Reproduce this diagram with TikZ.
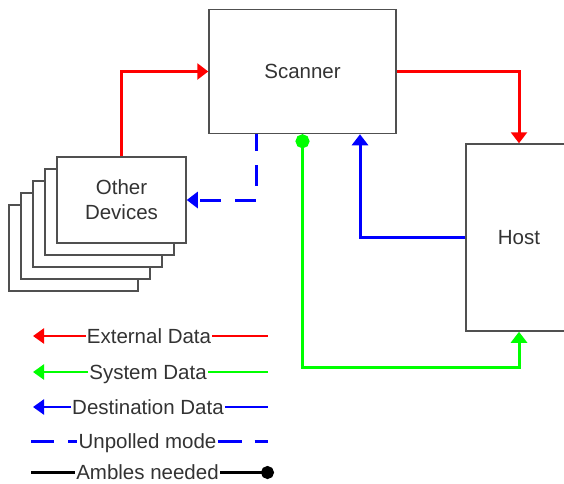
\documentclass[tikz,border=0pt]{standalone}
\usepackage{fontspec}
\setmainfont{Liberation Sans}
\usetikzlibrary{arrows.meta}
\definecolor{boxgray}{HTML}{505050}
\definecolor{txtgray}{HTML}{333333}
\definecolor{pgreen}{HTML}{00FF00}
\definecolor{pblue}{HTML}{0000FF}
\definecolor{pred}{HTML}{FF0000}
\begin{document}
\begin{tikzpicture}[x=1pt,y=-1pt,
  font=\fontsize{20.5}{25}\selectfont,
  box/.style={draw=boxgray, line width=1.5pt, fill=white, text=txtgray, inner sep=0pt, align=center},
  devbox/.style={box, minimum width=129pt, minimum height=86pt},
  conn/.style={line width=3pt},
  tri/.tip={Triangle[length=11pt,width=16pt]},
  legtxt/.style={text=txtgray, inner xsep=1pt, inner ysep=0pt, text height=14.7pt, text depth=0pt},
  legline/.style={line width=2.5pt},
  legtri/.tip={Triangle[length=11pt,width=15pt]}
]
\useasboundingbox (0,0) rectangle (564,483);
\clip (0,0) rectangle (564,483);

% nodes
\node[box, minimum width=187pt, minimum height=124pt] (scanner) at (302.5,71.5) {Scanner};
\node[box, minimum width=106pt, minimum height=187pt] (host) at (519,237.5) {Host};
\foreach \k in {4,3,2,1}
  \node[devbox] (back\k) at (121.5-12*\k,200+12*\k) {};
\node[devbox] (devices) at (121.5,200) {Other\\Devices};

% connectors
\draw[conn, pred, -tri] (devices.north) |- (scanner.west);
\draw[conn, pred, -tri] (scanner.east) -| (host.north);
\draw[conn, pblue, dash pattern=on 21pt off 14pt, dash phase=4pt, -tri]
  ([xshift=-46.5pt]scanner.south) |- (devices.east);
\draw[conn, pgreen, {Circle[length=14pt]}-tri] (scanner.south) -- ++(0,233) -| (host.south);
\draw[conn, pblue, -tri] (host.west) -| ([xshift=57.5pt]scanner.south);

% legend
\node[legtxt] (l1) at (149,336) {External Data};
\coordinate (l1a) at (33,336); \coordinate (l1b) at (268,336);
\draw[legline, pred, -legtri] (l1.west) -- (l1a);
\draw[legline, pred] (l1.east) -- (l1b);

\node[legtxt] (l2) at (148,372) {System Data};
\coordinate (l2a) at (33,372); \coordinate (l2b) at (268,372);
\draw[legline, pgreen, -legtri] (l2.west) -- (l2a);
\draw[legline, pgreen] (l2.east) -- (l2b);

\node[legtxt] (l3) at (148,407) {Destination Data};
\coordinate (l3a) at (33,407); \coordinate (l3b) at (268,407);
\draw[legline, pblue, -legtri] (l3.west) -- (l3a);
\draw[legline, pblue] (l3.east) -- (l3b);

\node[legtxt] (l4) at (147.5,441.5) {Unpolled mode};
\coordinate (l4a) at (31,441.5); \coordinate (l4b) at (268,441.5);
\draw[legline, pblue, dash pattern=on 23pt off 14pt] (l4a) -- (l4.west);
\draw[legline, pblue, dash pattern=on 24pt off 13pt] (l4.east) -- (l4b);

\node[legtxt] (l5) at (147.5,472.5) {Ambles needed};
\coordinate (l5a) at (31,472.5); \coordinate (l5b) at (274,472.5);
\draw[legline, black] (l5a) -- (l5.west);
\draw[legline, black, -{Circle[length=13pt]}] (l5.east) -- (l5b);
\end{tikzpicture}
\end{document}
